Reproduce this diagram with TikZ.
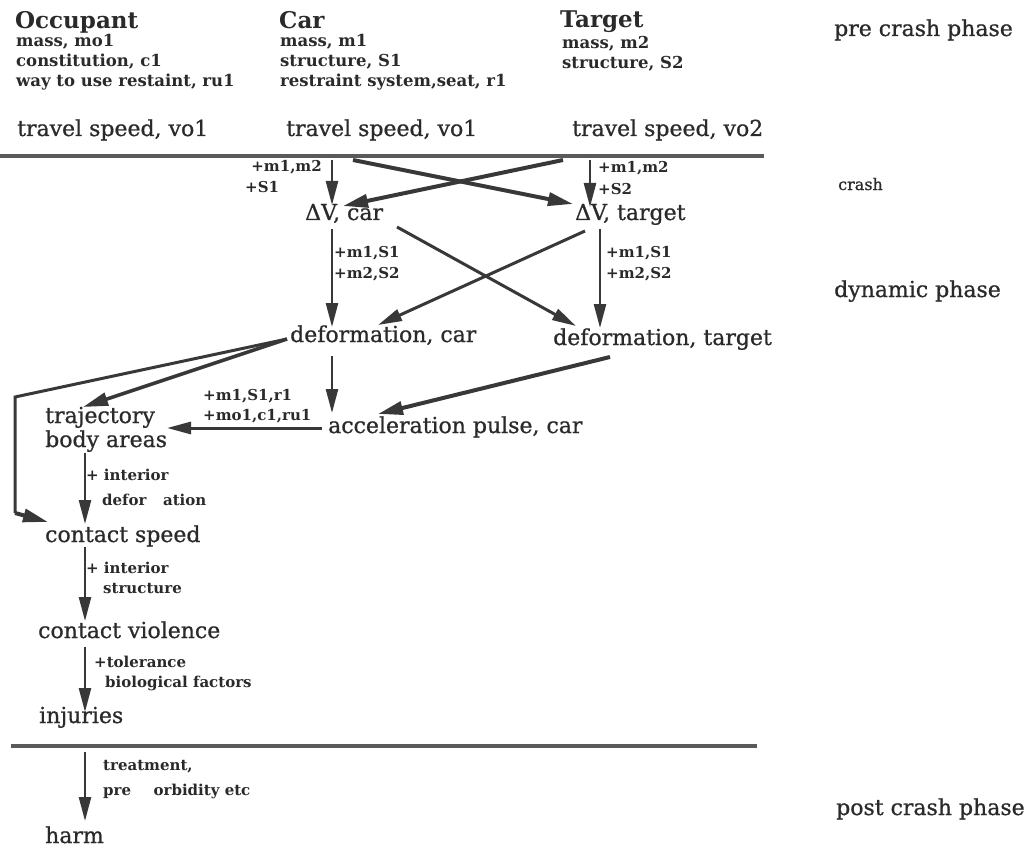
\documentclass[tikz,border=0pt]{standalone}
\usepackage{fontspec}
\setmainfont{DejaVu Serif}
\newfontfamily\bodyface{DejaVu Serif}[FakeBold=0.8]
\usetikzlibrary{arrows.meta}
\definecolor{ink}{HTML}{2A2A2A}
\definecolor{wire}{HTML}{383838}
\definecolor{phaseline}{HTML}{5A5A5A}
\tikzset{
  txt/.style={inner sep=0pt, anchor=base west, text=ink, font=\bodyface\fontsize{22}{25}\selectfont},
  head/.style={txt, font=\bfseries\fontsize{23}{26}\selectfont},
  attr/.style={txt, font=\bfseries\fontsize{16.5}{19}\selectfont},
  lbl/.style={txt, font=\bfseries\fontsize{15}{17}\selectfont},
  arr/.style={draw=wire, line width=2.5pt, -{Triangle[length=24pt,width=12pt]}},
  mid/.style={arr, line width=3pt},
  heavy/.style={arr, line width=4pt, -{Triangle[length=25pt,width=13pt]}},
  bar/.style={draw=wire, line width=2.5pt},
  divider/.style={draw=phaseline, line width=4pt}
}
\begin{document}
\begin{tikzpicture}[x=1pt,y=-1pt]
\useasboundingbox (0,0) rectangle (1029,848);

% ---- pre crash phase: parties and their attributes
\node[head] (occ) at (15,29) {Occupant};
\node[attr] (occa) at (16,47) {mass, mo1};
\node[attr] (occb) at (16,67) {constitution, c1};
\node[attr] (occc) at (16,87) {way to use restaint, ru1};

\node[head] (car) at (279,29) {Car};
\node[attr] (cara) at (280,47) {mass, m1};
\node[attr] (carb) at (280,67) {structure, S1};
\node[attr] (carc) at (280,87) {restraint system,seat, r1};

\node[head] (tgt) at (560,28) {Target};
\node[attr] (tgta) at (562,49) {mass, m2};
\node[attr] (tgtb) at (562,69) {structure, S2};

\node[txt] (ph1) at (834,36) {pre crash phase};

\node[txt] (tsocc) at (17,136) {travel speed, vo1};
\node[txt] (tscar) at (286,136) {travel speed, vo1};
\node[txt] (tstgt) at (572,136) {travel speed, vo2};

% ---- crash
\coordinate (crL) at (0,156);
\coordinate (crR) at (764,156);
\draw[divider] (crL) -- (crR);
\node[txt, font=\bodyface\fontsize{16}{18}\selectfont] (ph2) at (838,190) {crash};

\node[txt] (dvcar) at (305,220) {ΔV, car};
\node[txt] (dvtgt) at (575,220) {ΔV, target};

\node[lbl, anchor=base east] (l1a) at (322,172) {+m1,m2};
\node[lbl] (l1b) at (245,193) {+S1};
\node[lbl] (l2a) at (598,173) {+m1,m2};
\node[lbl] (l2b) at (598,195) {+S2};

\coordinate (a1s) at (332,160);  \coordinate (a1e) at (332,205);
\coordinate (a2s) at (563,160);  \coordinate (a2e) at (343,206);
\coordinate (a3s) at (353,160);  \coordinate (a3e) at (573,204);
\coordinate (a4s) at (590,160);  \coordinate (a4e) at (590,207);
\draw[arr] (a1s) -- (a1e);
\draw[heavy] (a2s) -- (a2e);
\draw[heavy] (a3s) -- (a3e);
\draw[arr] (a4s) -- (a4e);

% ---- dynamic phase
\node[txt] (ph3) at (834,297) {dynamic phase};

\node[txt] (defcar) at (290,342) {deformation, car};
\node[txt] (deftgt) at (553,345) {deformation, target};

\node[lbl] (l3a) at (334,258) {+m1,S1};
\node[lbl] (l3b) at (334,278) {+m2,S2};
\node[lbl] (l4a) at (606,258) {+m1,S1};
\node[lbl] (l4b) at (606,278) {+m2,S2};

\coordinate (a5s) at (332,229);  \coordinate (a5e) at (332,327);
\coordinate (a6s) at (600,229);  \coordinate (a6e) at (600,328);
\coordinate (a7s) at (397,227);  \coordinate (a7e) at (576,326);
\coordinate (a8s) at (585,231);  \coordinate (a8e) at (378,325);
\draw[arr] (a5s) -- (a5e);
\draw[arr] (a6s) -- (a6e);
\draw[mid] (a7s) -- (a7e);
\draw[mid] (a8s) -- (a8e);

\node[txt] (acc) at (328,433) {acceleration pulse, car};
\node[lbl] (l5a) at (203,400) {+m1,S1,r1};
\node[lbl] (l5b) at (203,420) {+mo1,c1,ru1};

\node[txt] (traj) at (45,423) {trajectory};
\node[txt] (body) at (45,447) {body areas};

\coordinate (a9s) at (332,356);   \coordinate (a9e) at (332,413);
\coordinate (a10s) at (610,357);  \coordinate (a10e) at (378,414);
\coordinate (a11s) at (322,428);  \coordinate (a11e) at (167,428);
\draw[arr] (a9s) -- (a9e);
\draw[heavy] (a10s) -- (a10e);
\draw[mid] (a11s) -- (a11e);

% two branches leaving deformation, car towards the occupant chain
\coordinate (dsrc) at (287,339);
\coordinate (bk1) at (15,397);
\coordinate (bk2) at (15,513);
\coordinate (bkE) at (48,522);
\coordinate (a12e) at (83,407);
\draw[bar, line width=3pt, line join=miter] (dsrc) -- (bk1) -- (bk2);
\draw[heavy] (bk2) -- (bkE);
\draw[heavy, line width=3.5pt] (dsrc) -- (a12e);

\node[lbl] (l6a) at (86,480) {+ interior};
\node[lbl] (l6b) at (102,505) {defor\hspace{1.1em}ation};
\node[txt] (cspeed) at (45,542) {contact speed};

\node[lbl] (l7a) at (86,573) {+ interior};
\node[lbl] (l7b) at (103,593) {structure};
\node[txt] (cviol) at (38,638) {contact violence};

\node[lbl] (l8a) at (94,667) {+tolerance};
\node[lbl] (l8b) at (105,687) {biological factors};
\node[txt] (inj) at (39,723) {injuries};

\coordinate (a13s) at (85,453);  \coordinate (a13e) at (85,524);
\coordinate (a14s) at (85,547);  \coordinate (a14e) at (85,621);
\coordinate (a15s) at (85,647);  \coordinate (a15e) at (85,712);
\draw[arr] (a13s) -- (a13e);
\draw[arr] (a14s) -- (a14e);
\draw[arr] (a15s) -- (a15e);

% ---- post crash phase
\coordinate (pcL) at (11,746);
\coordinate (pcR) at (757,746);
\draw[divider] (pcL) -- (pcR);

\node[lbl] (l9a) at (103,770) {treatment,};
\node[lbl] (l9b) at (103,795) {pre\hspace{1.5em}orbidity etc};
\node[txt] (harm) at (45,843) {harm};
\node[txt] (ph4) at (836,815) {post crash phase};

\coordinate (a16s) at (85,752);  \coordinate (a16e) at (85,821);
\draw[arr] (a16s) -- (a16e);
\end{tikzpicture}
\end{document}
